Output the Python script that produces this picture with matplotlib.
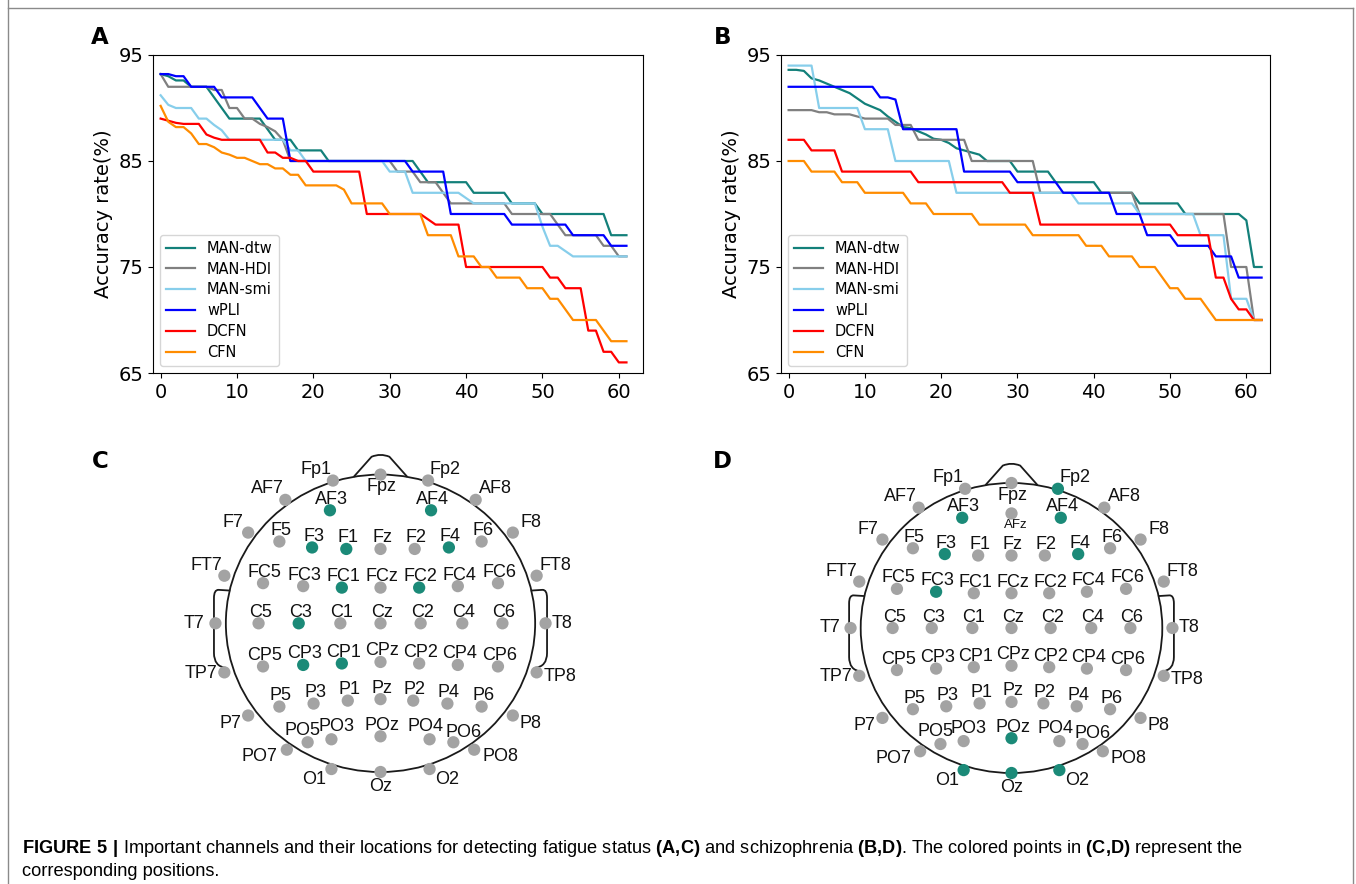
import numpy as np
import matplotlib
matplotlib.use('Agg')
import matplotlib.pyplot as plt
from matplotlib.patches import Ellipse, PathPatch
from matplotlib.path import Path
from matplotlib.lines import Line2D
from matplotlib import font_manager

# ---------------- data: accuracy curves ----------------
methods = ['MAN-dtw', 'MAN-HDI', 'MAN-smi', 'wPLI', 'DCFN', 'CFN']

# panel A (fatigue), x = 0..61
A_dtw = [93.2, 93.0, 92.6, 92.6, 92.0, 92.0, 92.0, 91.0, 90.0, 89.0,
         89.0, 89.0, 89.0, 89.0, 88.0, 87.0, 87.0, 87.0, 86.0, 86.0,
         86.0, 86.0, 85.0, 85.0, 85.0, 85.0, 85.0, 85.0, 85.0, 85.0,
         85.0, 85.0, 85.0, 85.0, 84.0, 83.0, 83.0, 83.0, 83.0, 83.0,
         83.0, 82.0, 82.0, 82.0, 82.0, 82.0, 81.0, 81.0, 81.0, 81.0,
         80.0, 80.0, 80.0, 80.0, 80.0, 80.0, 80.0, 80.0, 80.0, 78.0,
         78.0, 78.0]
A_hdi = [93.2, 92.0, 92.0, 92.0, 92.0, 92.0, 92.0, 91.7, 91.7, 90.0,
         90.0, 89.0, 89.0, 88.5, 88.2, 87.8, 87.0, 85.0, 85.0, 85.0,
         85.0, 85.0, 85.0, 85.0, 85.0, 85.0, 85.0, 85.0, 85.0, 85.0,
         85.0, 84.0, 84.0, 84.0, 83.0, 83.0, 83.0, 82.0, 81.0, 81.0,
         81.0, 81.0, 81.0, 81.0, 81.0, 81.0, 80.0, 80.0, 80.0, 80.0,
         80.0, 80.0, 79.0, 78.0, 78.0, 78.0, 78.0, 78.0, 77.0, 77.0,
         76.0, 76.0]
A_smi = [91.2, 90.3, 90.0, 90.0, 90.0, 89.0, 89.0, 88.4, 87.9, 87.0,
         87.0, 87.0, 87.0, 87.0, 87.0, 87.0, 87.0, 86.0, 86.0, 85.0,
         85.0, 85.0, 85.0, 85.0, 85.0, 85.0, 85.0, 85.0, 85.0, 85.0,
         84.0, 84.0, 84.0, 82.0, 82.0, 82.0, 82.0, 82.0, 82.0, 82.0,
         81.5, 81.0, 81.0, 81.0, 81.0, 81.0, 81.0, 81.0, 81.0, 81.0,
         78.8, 77.0, 77.0, 76.5, 76.0, 76.0, 76.0, 76.0, 76.0, 76.0,
         76.0, 76.0]
A_wpli = [93.2, 93.2, 93.0, 93.0, 92.0, 92.0, 92.0, 92.0, 91.0, 91.0,
          91.0, 91.0, 91.0, 90.0, 89.0, 89.0, 89.0, 85.0, 85.0, 85.0,
          85.0, 85.0, 85.0, 85.0, 85.0, 85.0, 85.0, 85.0, 85.0, 85.0,
          85.0, 85.0, 85.0, 84.0, 84.0, 84.0, 84.0, 84.0, 80.0, 80.0,
          80.0, 80.0, 80.0, 80.0, 80.0, 80.0, 79.0, 79.0, 79.0, 79.0,
          79.0, 79.0, 79.0, 79.0, 78.0, 78.0, 78.0, 78.0, 78.0, 77.0,
          77.0, 77.0]
A_dcfn = [89.0, 88.8, 88.6, 88.5, 88.5, 88.5, 87.5, 87.2, 87.0, 87.0,
          87.0, 87.0, 87.0, 87.0, 85.8, 85.8, 85.3, 85.3, 85.0, 85.0,
          84.0, 84.0, 84.0, 84.0, 84.0, 84.0, 84.0, 80.0, 80.0, 80.0,
          80.0, 80.0, 80.0, 80.0, 80.0, 79.5, 79.0, 79.0, 79.0, 79.0,
          75.0, 75.0, 75.0, 75.0, 75.0, 75.0, 75.0, 75.0, 75.0, 75.0,
          75.0, 74.0, 74.0, 73.0, 73.0, 73.0, 69.0, 69.0, 67.0, 67.0,
          66.0, 66.0]
A_cfn = [90.2, 88.7, 88.2, 88.2, 87.6, 86.6, 86.6, 86.3, 85.8, 85.6,
         85.3, 85.3, 85.0, 84.7, 84.7, 84.3, 84.3, 83.7, 83.7, 82.7,
         82.7, 82.7, 82.7, 82.7, 82.3, 81.0, 81.0, 81.0, 81.0, 81.0,
         80.0, 80.0, 80.0, 80.0, 80.0, 78.0, 78.0, 78.0, 78.0, 76.0,
         76.0, 76.0, 75.0, 75.0, 74.0, 74.0, 74.0, 74.0, 73.0, 73.0,
         73.0, 72.0, 72.0, 71.0, 70.0, 70.0, 70.0, 70.0, 69.0, 68.0,
         68.0, 68.0]

# panel B (schizophrenia), x = 0..62
B_dtw = [93.6, 93.6, 93.5, 92.8, 92.6, 92.3, 92.0, 91.7, 91.4, 90.9,
         90.4, 90.1, 89.8, 89.2, 88.7, 88.2, 88.1, 87.8, 87.5, 87.1,
         87.0, 86.7, 86.2, 86.0, 85.8, 85.6, 85.0, 85.0, 85.0, 85.0,
         84.0, 84.0, 84.0, 84.0, 84.0, 83.0, 83.0, 83.0, 83.0, 83.0,
         83.0, 82.0, 82.0, 82.0, 82.0, 82.0, 81.0, 81.0, 81.0, 81.0,
         81.0, 81.0, 80.0, 80.0, 80.0, 80.0, 80.0, 80.0, 80.0, 80.0,
         79.4, 75.0, 75.0]
B_hdi = [89.8, 89.8, 89.8, 89.8, 89.6, 89.6, 89.4, 89.4, 89.4, 89.2,
         89.0, 89.0, 89.0, 89.0, 88.4, 88.4, 88.4, 87.0, 87.0, 87.0,
         87.0, 87.0, 87.0, 87.0, 85.0, 85.0, 85.0, 85.0, 85.0, 85.0,
         85.0, 85.0, 85.0, 82.0, 82.0, 82.0, 82.0, 82.0, 82.0, 82.0,
         82.0, 82.0, 82.0, 82.0, 82.0, 82.0, 80.0, 80.0, 80.0, 80.0,
         80.0, 80.0, 80.0, 80.0, 80.0, 80.0, 80.0, 80.0, 75.0, 75.0,
         75.0, 70.0, 70.0]
B_smi = [94.0, 94.0, 94.0, 94.0, 90.0, 90.0, 90.0, 90.0, 90.0, 90.0,
         88.0, 88.0, 88.0, 88.0, 85.0, 85.0, 85.0, 85.0, 85.0, 85.0,
         85.0, 85.0, 82.0, 82.0, 82.0, 82.0, 82.0, 82.0, 82.0, 82.0,
         82.0, 82.0, 82.0, 82.0, 82.0, 82.0, 82.0, 82.0, 81.0, 81.0,
         81.0, 81.0, 81.0, 81.0, 81.0, 81.0, 80.0, 80.0, 80.0, 80.0,
         80.0, 80.0, 80.0, 80.0, 78.0, 78.0, 78.0, 78.0, 72.0, 72.0,
         72.0, 70.0, 70.0]
B_wpli = [92.0, 92.0, 92.0, 92.0, 92.0, 92.0, 92.0, 92.0, 92.0, 92.0,
          92.0, 92.0, 91.0, 91.0, 90.8, 88.0, 88.0, 88.0, 88.0, 88.0,
          88.0, 88.0, 88.0, 84.0, 84.0, 84.0, 84.0, 84.0, 84.0, 84.0,
          83.0, 83.0, 83.0, 83.0, 83.0, 83.0, 82.0, 82.0, 82.0, 82.0,
          82.0, 82.0, 82.0, 80.0, 80.0, 80.0, 80.0, 78.0, 78.0, 78.0,
          78.0, 77.0, 77.0, 77.0, 77.0, 77.0, 76.0, 76.0, 76.0, 74.0,
          74.0, 74.0, 74.0]
B_dcfn = [87.0, 87.0, 87.0, 86.0, 86.0, 86.0, 86.0, 84.0, 84.0, 84.0,
          84.0, 84.0, 84.0, 84.0, 84.0, 84.0, 84.0, 83.0, 83.0, 83.0,
          83.0, 83.0, 83.0, 83.0, 83.0, 83.0, 83.0, 83.0, 83.0, 82.0,
          82.0, 82.0, 82.0, 79.0, 79.0, 79.0, 79.0, 79.0, 79.0, 79.0,
          79.0, 79.0, 79.0, 79.0, 79.0, 79.0, 79.0, 79.0, 79.0, 79.0,
          79.0, 78.0, 78.0, 78.0, 78.0, 78.0, 74.0, 74.0, 72.0, 71.0,
          71.0, 70.0, 70.0]
B_cfn = [85.0, 85.0, 85.0, 84.0, 84.0, 84.0, 84.0, 83.0, 83.0, 83.0,
         82.0, 82.0, 82.0, 82.0, 82.0, 82.0, 81.0, 81.0, 81.0, 80.0,
         80.0, 80.0, 80.0, 80.0, 80.0, 79.0, 79.0, 79.0, 79.0, 79.0,
         79.0, 79.0, 78.0, 78.0, 78.0, 78.0, 78.0, 78.0, 78.0, 77.0,
         77.0, 77.0, 76.0, 76.0, 76.0, 76.0, 75.0, 75.0, 75.0, 74.0,
         73.0, 73.0, 72.0, 72.0, 72.0, 71.0, 70.0, 70.0, 70.0, 70.0,
         70.0, 70.0, 70.0]

# ---------------- data: electrode montage (head units, radius ~1) ----------------
ch_names = ['Fp1', 'Fpz', 'Fp2',
            'AF7', 'AF3', 'AF4', 'AF8',
            'F7', 'F5', 'F3', 'F1', 'Fz', 'F2', 'F4', 'F6', 'F8',
            'FT7', 'FC5', 'FC3', 'FC1', 'FCz', 'FC2', 'FC4', 'FC6', 'FT8',
            'T7', 'C5', 'C3', 'C1', 'Cz', 'C2', 'C4', 'C6', 'T8',
            'TP7', 'CP5', 'CP3', 'CP1', 'CPz', 'CP2', 'CP4', 'CP6', 'TP8',
            'P7', 'P5', 'P3', 'P1', 'Pz', 'P2', 'P4', 'P6', 'P8',
            'PO7', 'PO5', 'PO3', 'POz', 'PO4', 'PO6', 'PO8',
            'O1', 'Oz', 'O2']
ch_x = [-0.32, 0.0, 0.32,
        -0.64, -0.34, 0.34, 0.64,
        -0.89, -0.68, -0.46, -0.23, 0.0, 0.23, 0.46, 0.68, 0.89,
        -1.05, -0.79, -0.52, -0.26, 0.0, 0.26, 0.52, 0.79, 1.05,
        -1.11, -0.82, -0.55, -0.27, 0.0, 0.27, 0.55, 0.82, 1.11,
        -1.05, -0.79, -0.52, -0.26, 0.0, 0.26, 0.52, 0.79, 1.05,
        -0.89, -0.68, -0.45, -0.22, 0.0, 0.22, 0.45, 0.68, 0.89,
        -0.63, -0.49, -0.33, 0.0, 0.33, 0.49, 0.63,
        -0.33, 0.0, 0.33]
ch_y = [0.96, 1.0, 0.96,
        0.83, 0.76, 0.76, 0.83,
        0.61, 0.55, 0.51, 0.50, 0.50, 0.50, 0.51, 0.55, 0.61,
        0.32, 0.27, 0.25, 0.24, 0.24, 0.24, 0.25, 0.27, 0.32,
        0.0, 0.0, 0.0, 0.0, 0.0, 0.0, 0.0, 0.0, 0.0,
        -0.33, -0.29, -0.28, -0.27, -0.26, -0.27, -0.28, -0.29, -0.33,
        -0.62, -0.56, -0.54, -0.52, -0.51, -0.52, -0.54, -0.56, -0.62,
        -0.85, -0.80, -0.78, -0.76, -0.78, -0.80, -0.85,
        -0.98, -1.0, -0.98]

# important channels
key_C = ['AF3', 'AF4', 'F3', 'F1', 'F4', 'FC1', 'FC2', 'C3', 'CP3', 'CP1']
key_D = ['Fp2', 'AF3', 'AF4', 'F3', 'F4', 'FC3', 'POz', 'O1', 'Oz', 'O2']

# ---------------- figure ----------------
W, H = 1356, 884
fig = plt.figure(figsize=(W / 100, H / 100), dpi=100)
fig.patch.set_facecolor('white')

line_colors = ['#13807a', 'gray', 'skyblue', 'blue', 'red', 'darkorange']
dot_teal = '#1b8a78'
dot_gray = '#a3a3a3'


def px_axes(l, t, r, b):
    return fig.add_axes([l / W, 1 - b / H, (r - l) / W, (b - t) / H])


def curve_panel(ax, series):
    x = np.arange(len(series[0]))
    for s, lab, c in zip(series, methods, line_colors):
        ax.plot(x, s, color=c, lw=1.6, label=lab)
    ax.set_xlim(-1.0, 63.1)
    ax.set_ylim(65, 95)
    ax.set_yticks([65, 75, 85, 95])
    ax.set_xticks(range(0, 61, 10))
    ax.tick_params(labelsize=14)
    ax.set_ylabel('Accuracy rate(%)', fontsize=14)
    ax.legend(loc='lower left', fontsize=10.5, labelspacing=0.4)


axA = px_axes(153, 55, 642.5, 373)
curve_panel(axA, [A_dtw, A_hdi, A_smi, A_wpli, A_dcfn, A_cfn])
axB = px_axes(781, 55, 1270, 373)
curve_panel(axB, [B_dtw, B_hdi, B_smi, B_wpli, B_dcfn, B_cfn])

# label offsets (pixels) for channels whose name is not just above the dot
label_off = {'Fp1': (-17, 11), 'Fp2': (17, 11), 'Fpz': (1, -12),
             'AF7': (-18, 11), 'AF8': (20, 11), 'F7': (-15, 10), 'F8': (18, 10),
             'FT7': (-18, 10), 'FT8': (19, 10), 'T7': (-21, 0), 'T8': (17, 0),
             'TP7': (-23, -1), 'TP8': (23, -4), 'P7': (-18, -8), 'P8': (18, -8),
             'PO7': (-27, -7), 'PO8': (26, -7), 'O1': (-17, -10), 'O2': (18, -10),
             'Oz': (0, -15), 'PO5': (-5, 12), 'PO3': (5, 13), 'PO4': (-4, 13),
             'PO6': (10, 10), 'AFz': (4, -12)}


def head(cx, cy, s, key, extra=None):
    ax = px_axes(cx - 1.4 * s, cy - 1.3 * s, cx + 1.4 * s, cy + 1.3 * s)
    ax.set_xlim(-1.4, 1.4)
    ax.set_ylim(-1.3, 1.3)
    ax.axis('off')
    kw = dict(fill=False, lw=1.3, ec='#1a1a1a', zorder=1)
    ax.add_patch(Ellipse((0, 0), 2.08, 2.0, **kw))
    # nose
    nose = Path([(-0.18, 0.985), (-0.06, 1.12), (0, 1.145), (0.06, 1.12), (0.18, 0.985)],
                [Path.MOVETO, Path.LINETO, Path.CURVE3, Path.CURVE3, Path.LINETO])
    ax.add_patch(PathPatch(nose, **kw))
    # ears
    for sx in (-1, 1):
        ear = Path([(sx * 1.01, 0.22), (sx * 1.09, 0.225), (sx * 1.12, 0.225), (sx * 1.12, 0.17),
                    (sx * 1.12, -0.20), (sx * 1.12, -0.29), (sx * 1.04, -0.30)],
                   [Path.MOVETO, Path.LINETO, Path.CURVE3, Path.CURVE3,
                    Path.LINETO, Path.CURVE3, Path.CURVE3])
        ax.add_patch(PathPatch(ear, **kw))
    names, xs, ys = list(ch_names), list(ch_x), list(ch_y)
    if extra:
        names.append(extra[0]); xs.append(extra[1]); ys.append(extra[2])
    cols = [dot_teal if n in key else dot_gray for n in names]
    ax.scatter(xs, ys, s=78, c=cols, zorder=3, clip_on=False, linewidths=0)
    for n, x, y in zip(names, xs, ys):
        dx, dy = label_off.get(n, (1.5, 11))
        fs = 9.5 if n == 'AFz' else 13
        ax.annotate(n, (x, y), xytext=(dx * 0.72, dy * 0.72), textcoords='offset points',
                    ha='center', va='center', fontsize=fs, family='Liberation Sans',
                    color='#111111', zorder=2, annotation_clip=False)
    return ax


head(380.5, 623.3, 148.7, key_C)
head(1011.5, 628.0, 145.0, key_D, extra=('AFz', 0.0, 0.79))

# panel letters
for lab, (x, y) in zip('ABCD', [(100, 38), (723, 38), (100, 462), (722, 462)]):
    fig.text(x / W, 1 - y / H, lab, fontsize=16.5, fontweight='bold', ha='center', va='center')

# outer frame
for xs, ys in [([8, 8], [0, 884]), ([8, 1353], [8, 8]), ([1353, 1353], [8, 884])]:
    fig.add_artist(Line2D([v / W for v in xs], [1 - v / H for v in ys], color='#8a8a8a', lw=1.0))

# caption
names_avail = {f.name for f in font_manager.fontManager.ttflist}
capfont = 'Liberation Sans Narrow' if 'Liberation Sans Narrow' in names_avail else 'Liberation Sans'
plt.rcParams['mathtext.fontset'] = 'custom'
plt.rcParams['mathtext.rm'] = capfont
plt.rcParams['mathtext.bf'] = capfont + ':bold'
cap1 = (r'$\mathbf{FIGURE\ 5\ |}$ Important channels and their locations for detecting fatigue status '
        r'$\mathbf{(A{,}C)}$ and schizophrenia $\mathbf{(B{,}D)}$. The colored points in '
        r'$\mathbf{(C{,}D)}$ represent the')
cap2 = 'corresponding positions.'
t1 = fig.text(22 / W, 1 - 853 / H, cap1, fontsize=12, family=capfont, ha='left', va='baseline')
renderer = fig.canvas.get_renderer()
fs = 12 * 1221 / t1.get_window_extent(renderer).width
t1.set_fontsize(fs)
fig.text(22 / W, 1 - 876 / H, cap2, fontsize=fs, family=capfont, ha='left', va='baseline')

fig.savefig('out.png', dpi=100)
